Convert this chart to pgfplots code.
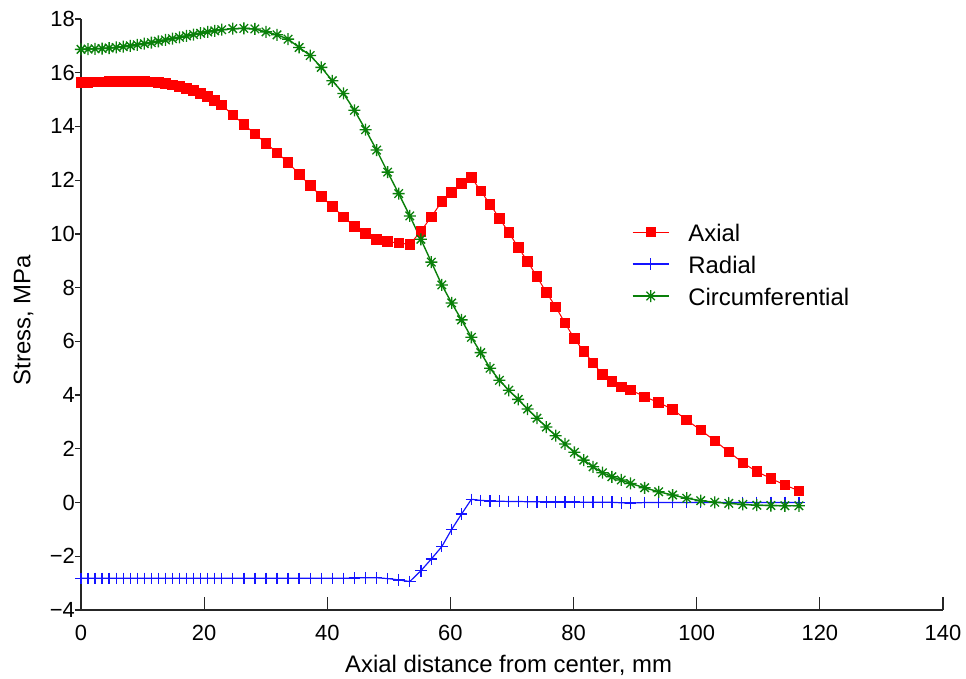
\documentclass[border=0pt]{standalone}
\usepackage{pgfplots}
\usepackage{pgfplotstable}
\pgfplotsset{compat=1.18}
\usepackage{fontspec}
\setmainfont{Liberation Sans}

\definecolor{axred}{RGB}{255,0,0}
\definecolor{radblue}{RGB}{20,20,255}
\definecolor{circgreen}{RGB}{10,128,10}

% eight-point star: a plus and a cross laid over each other
\pgfdeclareplotmark{mstar}{%
  \pgfpathmoveto{\pgfqpoint{0pt}{\pgfplotmarksize}}%
  \pgfpathlineto{\pgfqpoint{0pt}{-\pgfplotmarksize}}%
  \pgfpathmoveto{\pgfqpoint{\pgfplotmarksize}{0pt}}%
  \pgfpathlineto{\pgfqpoint{-\pgfplotmarksize}{0pt}}%
  \pgfpathmoveto{\pgfqpoint{0.7071\pgfplotmarksize}{0.7071\pgfplotmarksize}}%
  \pgfpathlineto{\pgfqpoint{-0.7071\pgfplotmarksize}{-0.7071\pgfplotmarksize}}%
  \pgfpathmoveto{\pgfqpoint{-0.7071\pgfplotmarksize}{0.7071\pgfplotmarksize}}%
  \pgfpathlineto{\pgfqpoint{0.7071\pgfplotmarksize}{-0.7071\pgfplotmarksize}}%
  \pgfusepathqstroke}

% stress components along the axis (mm, MPa)
\pgfplotstableread{
x       axial   radial  circ
0.00    15.65   -2.82   16.87
1.14    15.65   -2.82   16.88
2.29    15.66   -2.82   16.89
3.43    15.66   -2.82   16.90
4.57    15.67   -2.82   16.92
5.71    15.67   -2.82   16.94
6.86    15.68   -2.82   16.97
8.00    15.68   -2.82   17.00
9.14    15.68   -2.82   17.04
10.28   15.67   -2.82   17.08
11.43   15.66   -2.82   17.12
12.57   15.64   -2.82   17.17
13.71   15.60   -2.82   17.22
14.85   15.55   -2.82   17.27
16.00   15.49   -2.82   17.32
17.14   15.42   -2.82   17.37
18.28   15.34   -2.82   17.42
19.42   15.24   -2.82   17.47
20.57   15.11   -2.82   17.52
21.71   14.96   -2.82   17.56
22.85   14.80   -2.82   17.60
24.65   14.43   -2.82   17.64
26.45   14.08   -2.82   17.65
28.24   13.72   -2.82   17.63
30.04   13.38   -2.82   17.52
31.84   13.02   -2.82   17.41
33.63   12.66   -2.82   17.25
35.43   12.22   -2.82   16.94
37.23   11.80   -2.82   16.64
39.02   11.40   -2.82   16.20
40.82   11.02   -2.82   15.70
42.62   10.64   -2.82   15.23
44.41   10.28   -2.81   14.60
46.21   10.02   -2.80   13.88
48.01    9.80   -2.80   13.12
49.80    9.71   -2.83   12.30
51.60    9.66   -2.88   11.50
53.40    9.61   -2.94   10.67
55.20   10.10   -2.54    9.80
56.90   10.64   -2.10    8.95
58.60   11.20   -1.64    8.10
60.20   11.55   -1.00    7.43
61.80   11.88   -0.43    6.80
63.40   12.10    0.12    6.15
64.92   11.60    0.08    5.58
66.44   11.10    0.06    5.00
67.96   10.58    0.05    4.55
69.48   10.05    0.04    4.18
71.01    9.50    0.04    3.84
72.53    8.97    0.03    3.48
74.05    8.41    0.03    3.14
75.57    7.82    0.02    2.81
77.09    7.29    0.02    2.49
78.61    6.68    0.02    2.18
80.13    6.10    0.02    1.87
81.65    5.63    0.01    1.58
83.17    5.20    0.01    1.33
84.69    4.76    0.01    1.11
86.22    4.50    0.01    0.96
87.74    4.31   -0.01    0.84
89.26    4.19   -0.02    0.71
91.54    3.94    0.00    0.55
93.82    3.72    0.00    0.40
96.09    3.47    0.00    0.28
98.37    3.07    0.00    0.16
100.65   2.70    0.00    0.07
102.93   2.30    0.00    0.01
105.21   1.89    0.00   -0.03
107.49   1.48    0.00   -0.07
109.76   1.15    0.00   -0.10
112.04   0.90    0.00   -0.11
114.32   0.65    0.00   -0.12
116.60   0.44    0.00   -0.12
}\stress

\begin{document}
\begin{tikzpicture}
\useasboundingbox (-81bp,-69bp) rectangle (885bp,610bp);
\begin{axis}[
  at={(0,0)}, anchor=south west,
  scale only axis, width=862bp, height=591bp,
  xmin=0, xmax=140, ymin=-4, ymax=18,
  clip=false,
  axis x line*=bottom, axis y line*=left,
  x axis line style={-}, y axis line style={-},
  axis line style={line width=1.2bp, black!85},
  every tick/.style={line width=1.2bp, black!85},
  tick align=inside, major tick length=13bp,
  xtick={0,20,...,140},
  xticklabels={0,20,40,60,80,100,120,140},
  ytick=\empty,
  extra y ticks={-4,-2,...,18},
  extra y tick labels={−4,−2,0,2,4,6,8,10,12,14,16,18},
  extra y tick style={tick align=outside, major tick length=6bp},
  tick label style={font=\fontsize{22}{26}\selectfont},
  xticklabel style={anchor=north, inner sep=0pt, yshift=-15bp},
  yticklabel style={anchor=east, inner sep=0pt},
  xlabel={Axial distance from center, mm},
  ylabel={Stress, MPa},
  label style={font=\fontsize{24}{28}\selectfont},
  xlabel style={at={(axis description cs:0.496,-0.1049)}, anchor=base},
  ylabel style={at={(axis description cs:-0.0586,0.4907)}, anchor=base, rotate=0},
  legend cell align=left,
  legend style={draw=none, fill=none, inner sep=0pt, outer sep=0pt,
    at={(0.6392,0.5854)}, anchor=west,
    font=\fontsize{24}{28}\selectfont, row sep=14bp, column sep=0pt,
    /tikz/every odd column/.append style={column sep=19bp},
    nodes={inner sep=0pt, text height=18bp, text depth=0bp}},
  legend image code/.code={%
    \draw[mark repeat=2,mark phase=2] plot coordinates {(0bp,0bp) (18bp,0bp) (36bp,0bp)};},
]
\addplot[axred, line width=1bp, mark=square*, mark size=4.8bp,
  mark options={fill=axred, draw=axred, line width=0.8bp}]
  table[x=x, y=axial] {\stress};
\addlegendentry{Axial}
\addplot[radblue, line width=1.2bp, mark=+, mark size=5.8bp,
  mark options={line width=1.3bp}]
  table[x=x, y=radial] {\stress};
\addlegendentry{Radial}
\addplot[circgreen, line width=1.4bp, mark=mstar, mark size=6bp,
  mark options={line width=1.3bp}]
  table[x=x, y=circ] {\stress};
\addlegendentry{Circumferential}
\end{axis}
\end{tikzpicture}
\end{document}
